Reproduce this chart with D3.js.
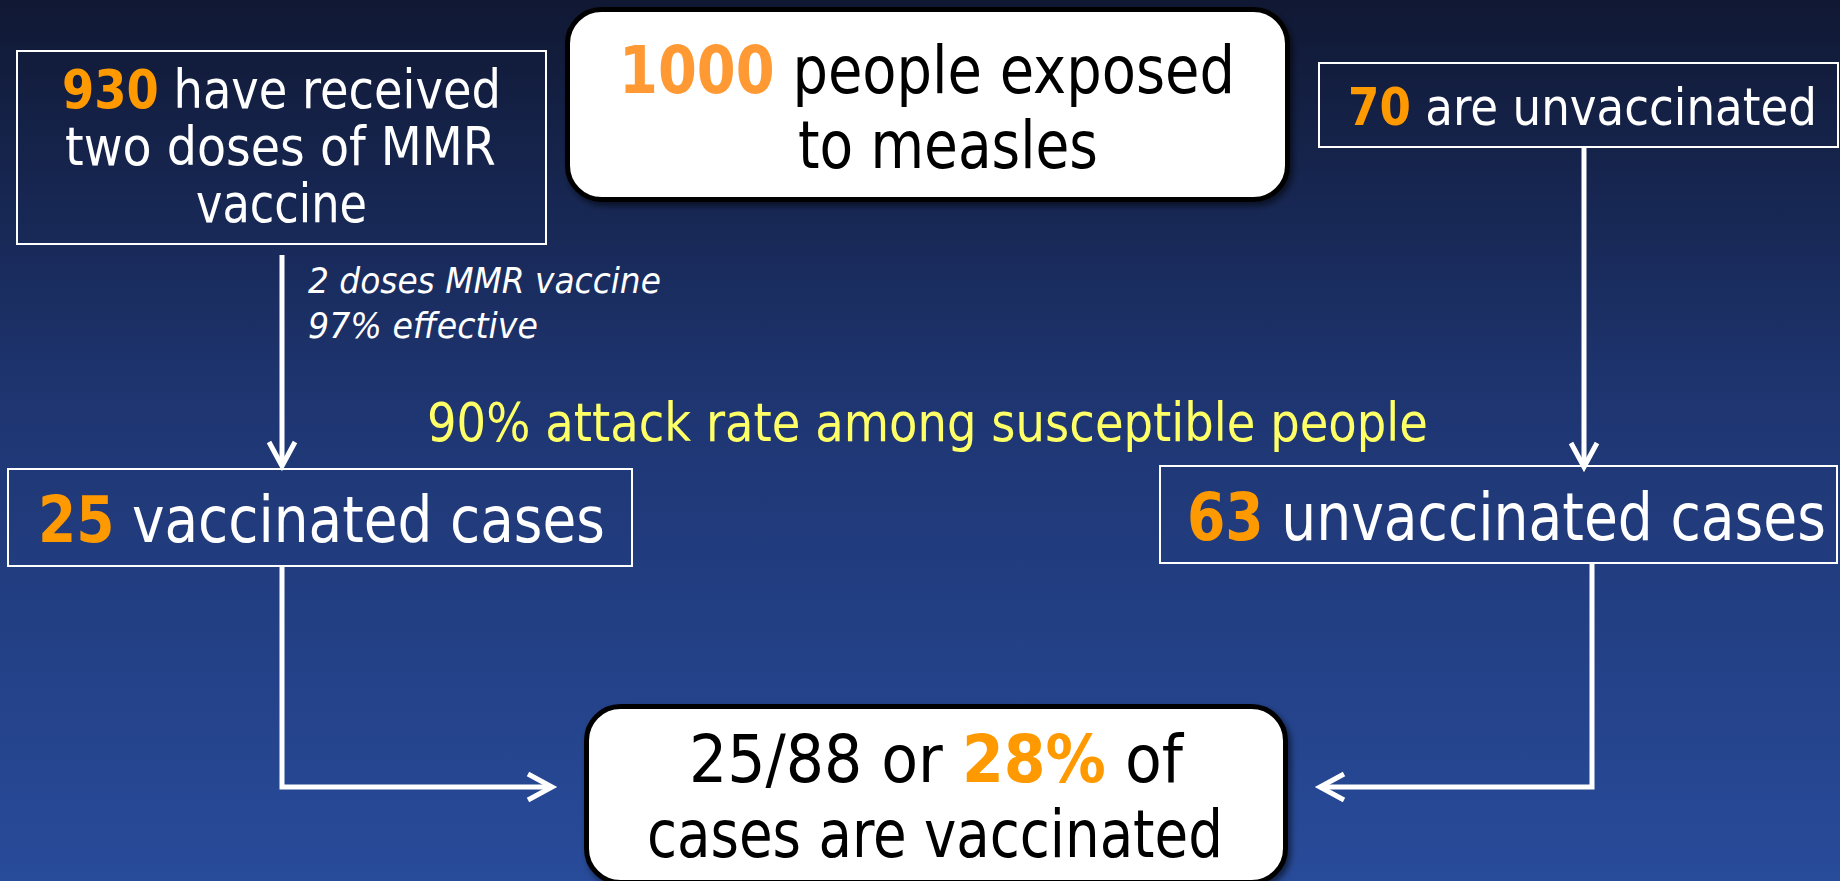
<!DOCTYPE html>
<html>
<head>
<meta charset="utf-8">
<script src="https://cdn.jsdelivr.net/npm/d3@7/dist/d3.min.js"></script>
<style>
  html, body { margin: 0; padding: 0; background: #1a2a5c; overflow: hidden; }
  svg { display: block; }
  text { font-family: "DejaVu Sans Condensed", "DejaVu Sans", sans-serif; }
</style>
</head>
<body>
<svg id="chart"></svg>
<script>
// stages of the flow, numbers are wrapped in * so they can be highlighted
var stageNames = ['exposed', 'vaccinated', 'unvaccinated', 'vaccinatedCases', 'unvaccinatedCases', 'share'];
var stageNumbers = ['1000', '930', '70', '25', '63', '28%'];
var stageLines = [
  ['*1000* people exposed', 'to measles'],
  ['*930* have received', 'two doses of MMR', 'vaccine'],
  ['*70* are unvaccinated'],
  ['*25* vaccinated cases'],
  ['*63* unvaccinated cases'],
  ['25/88 or *28%* of', 'cases are vaccinated']
];
var vaccineNote = ['2 doses MMR vaccine', '97% effective'];
var attackNote = ['90% attack rate among susceptible people'];
var links = [
  ['vaccinated', 'vaccinatedCases'],
  ['unvaccinated', 'unvaccinatedCases'],
  ['vaccinatedCases', 'share'],
  ['unvaccinatedCases', 'share']
];

var W = 1840, H = 881;

// layout in page pixels: box [x, y, w, h], each line [left, right, baseline]
var layout = {
  exposed:           { box: [567.5, 9.5, 720, 190], round: true, size: 66, num: '#ff9933',
                       lines: [[619, 1235, 93], [798, 1098, 168]] },
  vaccinated:        { box: [17, 51, 529, 193], size: 54, num: '#ff9900',
                       lines: [[62, 501, 108], [65, 496, 165], [196, 367, 222]] },
  unvaccinated:      { box: [1319, 63, 519, 84], size: 52, num: '#ff9900',
                       lines: [[1348, 1817, 125]] },
  vaccinatedCases:   { box: [8, 469, 624, 97], size: 64, num: '#ff9900',
                       lines: [[38, 605, 542]] },
  unvaccinatedCases: { box: [1160, 466, 677, 97], size: 65, num: '#ff9900',
                       lines: [[1187, 1826, 540]] },
  share:             { box: [586.5, 706.5, 699, 176], round: true, size: 66, num: '#ff9900',
                       lines: [[689, 1183, 782], [647, 1223, 857]] }
};
var linkPaths = [
  [[282, 255], [282, 466]],
  [[1584, 147], [1584, 467]],
  [[282, 566], [282, 787], [552, 787]],
  [[1592, 563], [1592, 787], [1320, 787]]
];

var svg = d3.select('#chart').attr('width', W).attr('height', H);
var defs = svg.append('defs');

var grad = defs.append('linearGradient')
  .attr('id', 'bg').attr('x1', 0).attr('y1', 0).attr('x2', 0).attr('y2', 1);
[[0, '#101833'], [0.45, '#1e3571'], [1, '#284b9a']].forEach(function (s) {
  grad.append('stop').attr('offset', s[0]).attr('stop-color', s[1]);
});

var shadow = defs.append('filter').attr('id', 'shadow')
  .attr('x', '-5%').attr('y', '-5%').attr('width', '110%').attr('height', '115%');
shadow.append('feDropShadow')
  .attr('dx', 3).attr('dy', 4).attr('stdDeviation', 3)
  .attr('flood-color', '#000').attr('flood-opacity', 0.55);

svg.append('rect').attr('width', W).attr('height', H).attr('fill', 'url(#bg)');

var stages = stageNames.map(function (name, i) {
  return { name: name, number: stageNumbers[i], lines: stageLines[i], L: layout[name] };
});

// connectors with open chevron heads
var line = d3.line();
var gLinks = svg.append('g')
  .attr('fill', 'none').attr('stroke', '#fff')
  .attr('stroke-width', 5).attr('stroke-linejoin', 'miter');

gLinks.selectAll('path.link')
  .data(links)
  .enter().append('path')
  .attr('class', 'link')
  .attr('d', function (d, i) { return line(linkPaths[i]); });

gLinks.selectAll('path.head')
  .data(links)
  .enter().append('path')
  .attr('class', 'head')
  .attr('d', function (d, i) {
    var pts = linkPaths[i],
        tip = pts[pts.length - 1],
        prev = pts[pts.length - 2],
        len = Math.hypot(tip[0] - prev[0], tip[1] - prev[1]),
        ux = (tip[0] - prev[0]) / len, uy = (tip[1] - prev[1]) / len,
        back = 24, side = 13;
    return line([
      [tip[0] - ux * back - uy * side, tip[1] - uy * back + ux * side],
      tip,
      [tip[0] - ux * back + uy * side, tip[1] - uy * back - ux * side]
    ]);
  });

// boxes
var gStage = svg.selectAll('g.stage')
  .data(stages)
  .enter().append('g')
  .attr('class', 'stage');

gStage.append('rect')
  .attr('x', function (d) { return d.L.box[0]; })
  .attr('y', function (d) { return d.L.box[1]; })
  .attr('width', function (d) { return d.L.box[2]; })
  .attr('height', function (d) { return d.L.box[3]; })
  .attr('rx', function (d) { return d.L.round ? 34 : 0; })
  .attr('fill', function (d) { return d.L.round ? '#fff' : 'none'; })
  .attr('stroke', function (d) { return d.L.round ? '#000' : '#fff'; })
  .attr('stroke-width', function (d) { return d.L.round ? 5 : 2; })
  .attr('filter', function (d) { return d.L.round ? 'url(#shadow)' : null; });

// squeeze a text horizontally so it runs from x0 to x1 (Tahoma-like width)
function fitText(sel, x0, x1, y, size) {
  sel.attr('x', 0).attr('y', 0).attr('font-size', size);
  sel.each(function () {
    var w = this.getComputedTextLength() || (x1 - x0);
    d3.select(this).attr('transform',
      'translate(' + x0 + ',' + y + ') scale(' + ((x1 - x0) / w) + ',1)');
  });
}

gStage.each(function (d) {
  var g = d3.select(this);
  var textColor = d.L.round ? '#000' : '#fff';
  d.lines.forEach(function (str, li) {
    var pos = d.L.lines[li];
    var t = g.append('text').attr('fill', textColor).attr('font-size', d.L.size);
    str.split('*').forEach(function (part, k) {
      if (!part) return;
      var isNum = k % 2 === 1;
      t.append('tspan')
        .attr('font-weight', isNum ? 'bold' : null)
        .attr('fill', isNum ? d.L.num : null)
        .text(part);
    });
    t.call(fitText, pos[0], pos[1], pos[2], d.L.size);
  });
});

// annotations
svg.selectAll('text.note')
  .data(vaccineNote)
  .enter().append('text')
  .attr('class', 'note')
  .attr('fill', '#fff')
  .attr('font-style', 'italic')
  .text(function (d) { return d; })
  .each(function (d, i) {
    var widths = [353, 230];
    d3.select(this).call(fitText, 308, 308 + widths[i], 293 + i * 45, 36);
  });

svg.selectAll('text.attack')
  .data(attackNote)
  .enter().append('text')
  .attr('class', 'attack')
  .attr('fill', '#ffff66')
  .text(function (d) { return d; })
  .call(fitText, 427, 1428, 441, 53);
</script>
</body>
</html>
